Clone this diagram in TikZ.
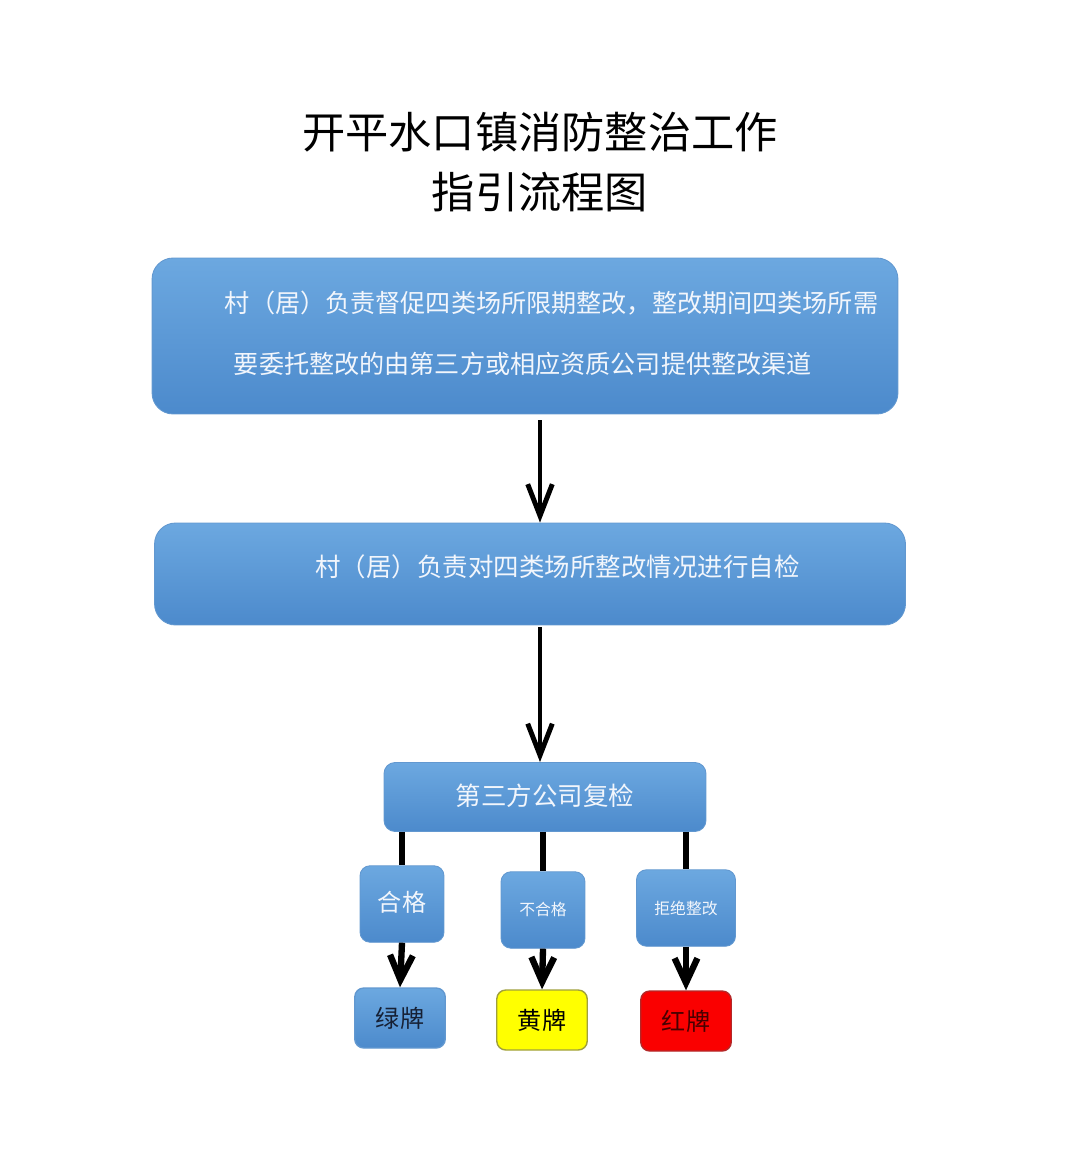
\documentclass[tikz,border=0pt]{standalone}
\usepackage{fontspec}
\setmainfont{Noto Sans CJK SC}
\usetikzlibrary{positioning,arrows.meta}
\definecolor{boxtop}{RGB}{108,168,224}
\definecolor{boxbot}{RGB}{76,138,204}
\definecolor{boxedge}{RGB}{98,152,208}
\definecolor{boxtext}{RGB}{242,246,252}
\definecolor{greentext}{RGB}{22,32,52}
\definecolor{yellowfill}{RGB}{255,255,0}
\definecolor{yellowedge}{RGB}{160,160,60}
\definecolor{redfill}{RGB}{250,0,0}
\definecolor{rededge}{RGB}{180,40,40}
\definecolor{redtext}{RGB}{70,0,0}
\newcommand{\fsz}[2]{\fontsize{#1}{#2}\selectfont}
\begin{document}
\begin{tikzpicture}[x=0.02cm, y=-0.02cm,
  box/.style = {draw=boxedge, line width=0.5pt, top color=boxtop, bottom color=boxbot, rounded corners=0.42cm},
  txt/.style = {text=boxtext, inner sep=0pt, align=left},
  lvl/.style = {box, rounded corners=0.2cm, minimum height=1.53cm, text=boxtext, inner sep=0pt},
  card/.style = {draw, line width=0.8pt, rounded corners=0.18cm, minimum width=1.81cm, minimum height=1.2cm, inner sep=0pt, font=\fsz{13.7}{16}},
  arr/.style = {line width=2.8pt, -{Straight Barb[length=18pt, width=14pt]}},
  sarr/.style = {line width=3.6pt, -{Straight Barb[length=14pt, width=13pt]}},
  link/.style = {line width=3.4pt}]
\useasboundingbox (0,0) rectangle (1080,1163);

% title
\node[align=center, font=\fsz{24.6}{34}] (title) at (540,162) {开平水口镇消防整治工作\\指引流程图};

% main steps
\node[box, minimum width=14.92cm, minimum height=3.12cm] (b1) at (525,336) {};
\node[txt, font=\fsz{14.3}{35}, right=1.46cm of b1.west, yshift=0.05cm] (t1) {村（居）负责督促四类场所限期整改，整改期间四类场所需\\\hspace{0.18cm}要委托整改的由第三方或相应资质公司提供整改渠道};
\node[box, minimum width=15.02cm, minimum height=2.04cm] (b2) at (530,574) {};
\node[txt, font=\fsz{14.5}{18}, right=3.22cm of b2.west, yshift=0.14cm] (t2) {村（居）负责对四类场所整改情况进行自检};
\node[box, rounded corners=0.22cm, minimum width=6.44cm, minimum height=1.38cm, text=boxtext, font=\fsz{14.5}{18}, text depth=0.08cm] (b3) at (545,797) {第三方公司复检};
\coordinate (mid) at (540,0);

% results
\node[lvl, minimum width=1.68cm, font=\fsz{13.7}{16}, text depth=0.12cm] (q1) at (402,904) {合格};
\node[lvl, minimum width=1.68cm, font=\fsz{9}{11}, text depth=0.06cm] (q2) at (543,910) {不合格};
\node[lvl, minimum width=1.98cm, font=\fsz{9}{11}] (q3) at (686,908) {拒绝整改};

% cards
\node[card, draw=boxedge, top color=boxtop, bottom color=boxbot, text=greentext] (c1) at (400,1018) {绿牌};
\node[card, draw=yellowedge, fill=yellowfill] (c2) at (542,1020) {黄牌};
\node[card, draw=rededge, fill=redfill, text=redtext] (c3) at (686,1021) {红牌};

\draw[arr, shorten <=0.12cm] (b1.south -| mid) -- (b2.north -| mid);
\draw[arr, shorten <=0.04cm] (b2.south -| mid) -- (b3.north -| mid);
\draw[link] (b3.south -| q1) -- (q1.north);
\draw[link] (b3.south -| q2) -- (q2.north);
\draw[link] (b3.south -| q3) -- (q3.north);
\draw[sarr] (q1.south) -- (c1.north);
\draw[sarr] (q2.south) -- (c2.north);
\draw[sarr] (q3.south) -- (c3.north);
\end{tikzpicture}
\end{document}
